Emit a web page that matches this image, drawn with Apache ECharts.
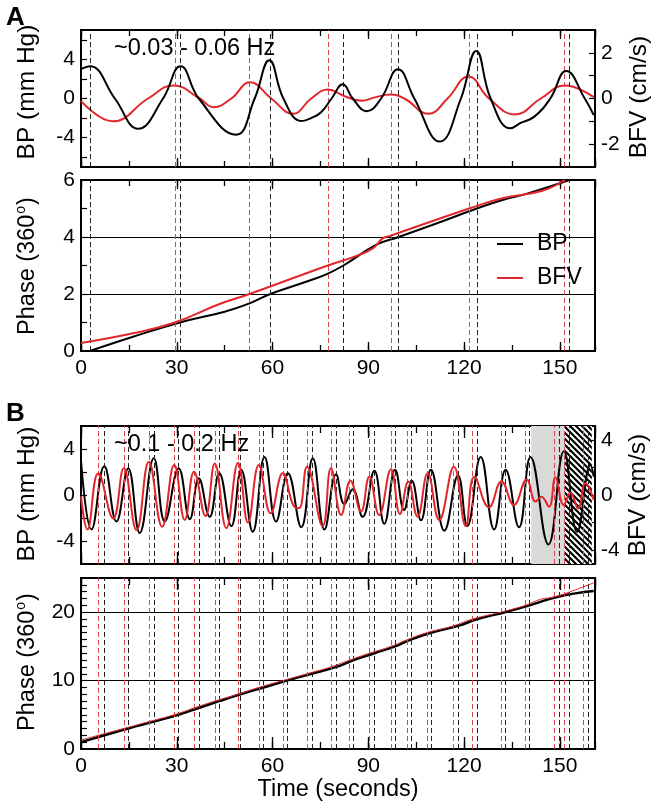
<!DOCTYPE html>
<html><head><meta charset="utf-8">
<script src="https://cdn.jsdelivr.net/npm/echarts@6/dist/echarts.min.js"></script>
<style>html,body{margin:0;padding:0;background:#fff}#c{width:658px;height:810px}</style>
</head><body><div id="c"></div>
<script>
// ---------- DATA ----------
// Panel A (~0.03 - 0.06 Hz): filtered signals [time s, value]
const aBP = [[0,3.0],[2.8,3.3],[10.6,0],[17.9,-3.1],[25.7,0],[31.2,3.3],[36.9,0],[48.6,-3.7],[54.4,0],[59,3.9],[63.4,0],[69,-2.3],[72.1,-2.0],[75.2,-1.4],[78.5,0],[82,1.45],[85.1,0],[89.5,-1.3],[94,0],[99.3,3.0],[104.4,0],[112.4,-4.4],[119,0],[123.8,4.85],[128.3,0],[134.5,-3.05],[137.7,-2.5],[142,-1.85],[147,0],[152,2.8],[157.8,0],[160.6,-1.7]];
const aBFV = [[0,-0.1],[10,-1.0],[21,0],[29,0.57],[37.2,0],[41.5,-0.38],[47.1,0],[52.9,0.71],[59.6,0],[66.4,-0.67],[72.1,0],[77.3,0.39],[82.6,0.1],[88,-0.1],[92,0.05],[97,0.17],[101.3,0],[108.8,-0.67],[114.8,0],[121.4,0.96],[127.8,0],[136,-0.7],[144,0],[151.6,0.57],[160.6,0.06]];
const aPhaseBP = [[2.8,0],[16.3,0.5],[31,1.0],[45,1.38],[52.8,1.67],[59.3,2.0],[70.5,2.43],[77,2.7],[82.2,3.0],[92.4,3.72],[99.5,4.0],[110,4.42],[124,5.0],[132,5.3],[140,5.53],[153,6.0]];
const aPhaseBFV = [[0,0.28],[16.3,0.62],[29.4,1.0],[43.4,1.65],[52.8,2.0],[77.3,3.0],[86.1,3.33],[91.4,3.6],[94.5,3.95],[97.1,4.05],[121.6,5.0],[132,5.36],[144.5,5.62],[151.5,6.0]];
const aPeaksBP = [2.8,31.2,59.3,82.2,99.5,124,152.8];
const aPeaksBFV = [29.4,52.8,77.3,97.1,121.6,151.5];

// Panel B (~0.1 - 0.2 Hz)
const bBP = [[0,3.0],[3.3,-3.0],[7.3,2.5],[11.1,-2.3],[14.8,2.3],[18.4,-3.3],[22.8,3.2],[26.25,-2.3],[30.6,2.3],[34.1,-2.1],[36.9,1.45],[40.3,-1.9],[43.3,1.9],[47.1,-2.7],[50.2,2.2],[53.8,-3.2],[57.5,3.3],[61.1,-2.3],[64.8,1.9],[69,-2.8],[72.6,3.2],[76.25,-3.0],[79.9,1.8],[82.5,-0.8],[85.1,0.5],[88.2,-1.9],[91.9,2.1],[95,-2.5],[98.4,2.2],[101.2,-1.3],[103.6,1.25],[106.5,-2.2],[109.6,2.2],[113.8,-3.1],[118.1,1.7],[121,-2.7],[125.2,3.3],[129.4,-3.0],[133,2.2],[137.2,-2.8],[140.8,3.3],[146.4,-4.3],[151.25,3.8],[155.4,-3.2],[159.6,2.6],[160.6,1.6]];
const bBFV = [[0,-0.1],[2.0,-2.5],[5.4,1.57],[10.1,-1.7],[13.4,1.93],[17.4,-2.54],[21.25,2.41],[25.4,-2.3],[29.2,2.17],[32.5,-1.8],[35.4,1.69],[39,-1.52],[41.9,2.29],[45.5,-2.4],[49.2,2.34],[52.3,-2.0],[55.7,2.17],[59.4,-1.33],[63.2,1.57],[66.5,-0.75],[68.3,-0.95],[70.8,2.05],[75.7,-2.25],[78.3,1.93],[81.5,-1.45],[84.4,1.04],[87.7,-1.2],[90.3,1.33],[93.4,-1.45],[97.1,1.86],[99.9,-1.38],[102.5,0.97],[105.4,-1.57],[108.6,1.57],[112.2,-1.81],[116.8,2.05],[120.5,-2.25],[123.2,1.33],[127.8,-0.9],[131.7,0.97],[135.6,-0.72],[139.6,1.13],[142.4,-0.48],[144.2,-0.12],[146.6,-0.85],[148.6,1.28],[151.2,-0.72],[153.3,0.17],[155.7,-0.97],[158,0.85],[160.6,-0.36]];
const bPhaseBP = [[0,1.0],[7.3,2],[14.8,3],[22.8,4],[30.5,5],[36.9,6],[43.3,7],[49.9,8],[57.2,9],[64.5,10],[72.3,11],[80,12],[85.4,13],[91.9,14],[98.4,15],[103.3,16],[109.6,17],[118.1,18],[124.2,19],[132.8,20],[140.5,21],[149.7,22.3],[160.6,23.1]];
const bPhaseBFV = [[0,1.3],[5.4,2],[13.4,3],[21.25,4],[29.2,5],[35.4,6],[41.9,7],[49.2,8],[55.7,9],[63.2,10],[70.8,11],[78.3,12],[84.1,13],[90.3,14],[97.1,15],[102.3,16],[108.3,17],[116.6,18],[122.6,19],[131.5,20],[139.2,21],[144,21.9],[148.1,22.2],[153.3,23],[160.6,24.3]];
const bPeaksBP = [7.3,14.8,22.8,30.5,36.9,43.3,49.9,57.2,64.5,72.3,80,85.4,91.9,98.4,103.3,109.6,118.1,124.2,132.8,140.5,149.7,152.8,158.75];
const bPeaksBFV = [5.4,13.4,21.25,29.2,35.4,41.9,49.2,55.7,63.2,70.8,78.3,84.1,90.3,97.1,102.3,108.3,116.6,122.6,131.5,139.2,148.1,151.25,157.2];
const bGraySpan = [141, 151.5];
const bHatchSpan = [151.5, 160];

// Axis ticks / labels
const timeMax = 161;
const aBPTicks = [-6,-4,-2,0,2,4,6], aBPLabels = [-4,0,4];
const aBFVTicks = [-2,-1,0,1,2], aBFVLabels = [-2,0,2];
const aPhTicks = [1,2,3,4,5], aPhLabels = [0,2,4,6], aPhGrid = [2,4];
const bBPTicks = [-4,-2,0,2,4], bBPLabels = [-4,0,4];
const bBFVTicks = [-4,-2,0,2,4], bBFVLabels = [-4,0,4];
const bPhTicks = [1,2,3,4,5,6,7,8,9,10,11,12,13,14,15,16,17,18,19,20,21,22,23,24], bPhLabels = [0,10,20], bPhGrid = [10,20];

// ---------- CHART ----------
const FONT = "'Liberation Sans', Arial, Helvetica, sans-serif";
const RED = '#e3262b', BLK = '#000000';
const RED_D = '#e0404a', BLK_D = '#222222';

const grids = [
  {left:81, top:30, width:514, height:137},
  {left:81, top:180, width:514, height:171},
  {left:81, top:426, width:514, height:138},
  {left:81, top:578, width:514, height:171}
].map(g => Object.assign(g, {show:true, borderColor:'#000', borderWidth:2, backgroundColor:'transparent', containLabel:false}));

function mkX(g, pos, interval, len, labels) {
  return {type:'value', gridIndex:g, position:pos, min:0, max:timeMax, interval,
    axisLine:{show:false, onZero:false},
    axisTick:{show:true, inside:true, length:len, lineStyle:{color:'#000', width:1.3}},
    axisLabel:{show:labels, showMaxLabel:false, fontSize:21, color:'#000', fontFamily:FONT, margin:7},
    splitLine:{show:false}};
}
const xAxes = [];
[[0,false,9,6],[1,true,9,6],[2,false,12,7],[3,true,12,7]].forEach(([g,lab,L1,L2]) => {
  xAxes.push(mkX(g,'bottom',30,L1,lab));
  xAxes.push(mkX(g,'bottom',15,L2,false));
  xAxes.push(mkX(g,'top',30,L1,false));
  xAxes.push(mkX(g,'top',15,L2,false));
});
function mkY(g, pos, min, max, interval, ticks, labels) {
  return {type:'value', gridIndex:g, position:pos, min, max, interval,
    axisLine:{show:false, onZero:false},
    axisTick:{show:true, inside:true, length:6, customValues:ticks, lineStyle:{color:'#000', width:1.2}},
    axisLabel:{show:true, customValues:labels, formatter:(v)=> labels.indexOf(Math.round(v*1000)/1000) >= 0 ? String(Math.round(v)) : '',
      fontSize:21, color:'#000', fontFamily:FONT, margin:6, showMinLabel:true, showMaxLabel:true},
    splitLine:{show:false}};
}
const yAxes = [
  mkY(0,'left',-7,7,1,aBPTicks,aBPLabels),
  mkY(0,'right',-3,3,1,aBFVTicks,aBFVLabels),
  mkY(1,'left',0,6,1,aPhTicks,aPhLabels),
  mkY(2,'left',-6,6,2,bBPTicks,bBPLabels),
  mkY(2,'right',-5,5,1,bBFVTicks,bBFVLabels),
  mkY(3,'left',0,25,1,bPhTicks,bPhLabels)
];

function curve(name, xi, yi, data, color, width, z) {
  return {name, type:'line', xAxisIndex:xi, yAxisIndex:yi, data, smooth:0.45, symbol:'none', showSymbol:false,
    lineStyle:{color, width}, itemStyle:{color}, z, silent:true, animation:false};
}
function vlines(xi, yi, times, color, z) {
  return {type:'line', xAxisIndex:xi, yAxisIndex:yi, data:[], silent:true, z, animation:false,
    markLine:{silent:true, symbol:['none','none'], label:{show:false}, animation:false,
      lineStyle:{color, width:1, type:[5,3]}, emphasis:{disabled:true},
      data: times.map(t => ({xAxis:t}))}};
}
function hlines(xi, yi, vals, z) {
  return {type:'line', xAxisIndex:xi, yAxisIndex:yi, data:[], silent:true, z, animation:false,
    markLine:{silent:true, symbol:['none','none'], label:{show:false}, animation:false,
      lineStyle:{color:'#000', width:1, type:'solid'}, emphasis:{disabled:true},
      data: vals.map(v => ({yAxis:v}))}};
}
function hatch() {
  const c = document.createElement('canvas'); c.width = 6; c.height = 6;
  const ctx = c.getContext('2d');
  ctx.fillStyle = '#fff'; ctx.fillRect(0,0,6,6);
  ctx.strokeStyle = '#000'; ctx.lineWidth = 2.2;
  ctx.beginPath();
  [-6,0,6].forEach(k => { ctx.moveTo(-1, k-1); ctx.lineTo(7, 7+k); });
  ctx.stroke();
  return c;
}

const series = [
  // Panel A top
  vlines(0,0,aPeaksBFV,RED_D,2), vlines(0,0,aPeaksBP,BLK_D,2),
  curve('BFV signal A',0,1,aBFV,RED,2,4), curve('BP signal A',0,0,aBP,BLK,2,5),
  // Panel A bottom
  hlines(4,2,aPhGrid,1),
  vlines(4,2,aPeaksBFV,RED_D,2), vlines(4,2,aPeaksBP,BLK_D,2),
  curve('BP',4,2,aPhaseBP,BLK,2,4), curve('BFV',4,2,aPhaseBFV,RED,2,5),
  // Panel B top
  {type:'line', xAxisIndex:8, yAxisIndex:3, data:[], silent:true, z:1, animation:false,
    markArea:{silent:true, animation:false, label:{show:false},
      data:[[{xAxis:bGraySpan[0], itemStyle:{color:'#d9d9d9'}},{xAxis:bGraySpan[1]}],
            [{xAxis:bHatchSpan[0], itemStyle:{color:{image:hatch(), repeat:'repeat'}}},{xAxis:bHatchSpan[1]}]]}},
  vlines(8,3,bPeaksBFV,RED_D,2), vlines(8,3,bPeaksBP,BLK_D,2),
  curve('BP signal B',8,3,bBP,BLK,2,4), curve('BFV signal B',8,4,bBFV,RED,2,5),
  // Panel B bottom
  hlines(12,5,bPhGrid,1),
  vlines(12,5,bPeaksBFV,RED_D,2), vlines(12,5,bPeaksBP,BLK_D,2),
  curve('BP phase B',12,5,bPhaseBP,BLK,2.5,4), curve('BFV phase B',12,5,bPhaseBFV,RED,1,5)
];

function T(text, x, y, size, opts) {
  return Object.assign({type:'text', x, y, z:100, silent:true,
    style:{text, fontSize:size, fontFamily:FONT, fill:'#000', textAlign:'center', textVerticalAlign:'middle', align:'center', verticalAlign:'middle'}}, opts||{});
}
function rot(text, x, y, size) { return T(text, x, y, size, {rotation:Math.PI/2}); }
function phaseTitle(x, y) {
  return {type:'text', x, y, z:100, rotation:Math.PI/2, silent:true,
    style:{text:'{a|Phase (360}{b|o}{a|)}', textAlign:'center', textVerticalAlign:'middle', align:'center', verticalAlign:'middle',
      rich:{a:{fontSize:23.5, fontFamily:FONT, fill:'#000', color:'#000', lineHeight:28},
            b:{fontSize:14, fontFamily:FONT, fill:'#000', color:'#000', verticalAlign:'top', lineHeight:28, padding:[0,1,12,1]}}}};
}
function leftText(text, x, y, size, bold) {
  return {type:'text', x, y, z:100, silent:true,
    style:{text, fontSize:size, fontFamily:FONT, fontWeight: bold?'bold':'normal', fill:'#000', textAlign:'left', textVerticalAlign:'middle', align:'left', verticalAlign:'middle'}};
}

const graphic = [
  leftText('A', 6, 18, 26, true),
  leftText('B', 6, 414, 26, true),
  rot('BP (mm Hg)', 27, 92, 24.5),
  rot('BFV (cm/s)', 639, 97, 24.5),
  phaseTitle(28, 266),
  rot('BP (mm Hg)', 27, 494, 24.5),
  rot('BFV (cm/s)', 638, 495, 24.5),
  phaseTitle(28, 662),
  T('Time (seconds)', 338, 790, 23.5),
  leftText('~0.03 - 0.06 Hz', 114, 49, 23.5),
  leftText('~0.1 - 0.2 Hz', 114, 445, 23.5),
  // legend
  {type:'line', z:100, shape:{x1:497, y1:244, x2:523, y2:244}, style:{stroke:BLK, lineWidth:2}},
  leftText('BP', 537, 244, 23),
  {type:'line', z:100, shape:{x1:497, y1:278, x2:523, y2:278}, style:{stroke:RED, lineWidth:2}},
  leftText('BFV', 537, 278, 23)
];

const chart = echarts.init(document.getElementById('c'), null, {renderer:'canvas'});
chart.setOption({
  animation:false,
  backgroundColor:'#fff',
  textStyle:{fontFamily:FONT},
  grid:grids, xAxis:xAxes, yAxis:yAxes, series, graphic
});
</script></body></html>
